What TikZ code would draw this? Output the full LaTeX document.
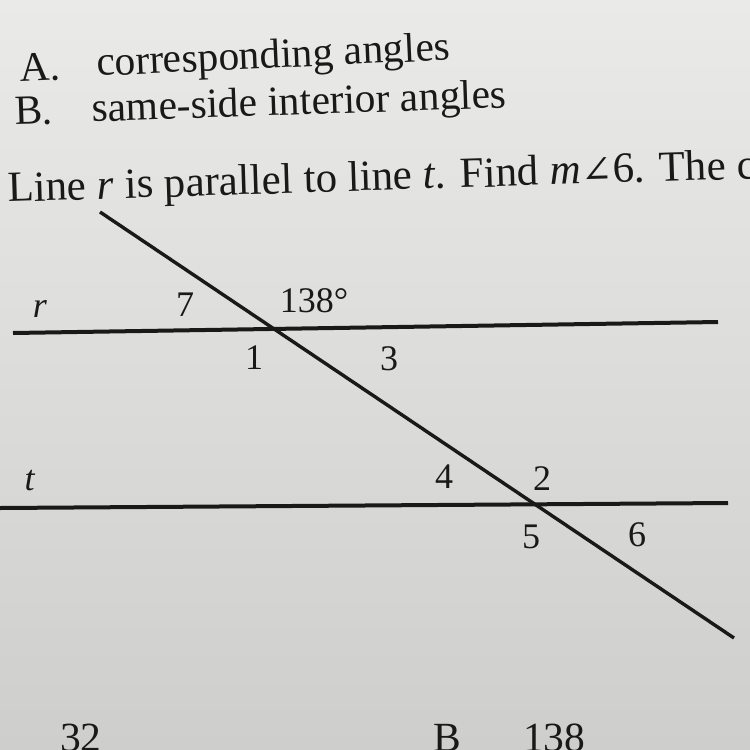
\documentclass[tikz,border=0pt]{standalone}
\usepackage{fontspec}
\setmainfont{Liberation Serif}
\newfontfamily\symfont{DejaVu Serif}
\definecolor{ink}{RGB}{25,25,25}
\definecolor{papertop}{RGB}{234,234,232}
\definecolor{paperbot}{RGB}{206,206,204}
\tikzset{
  txt/.style={anchor=base west, inner sep=0pt, text=ink, font=\fontsize{41.5}{50}\selectfont},
  lbl/.style={anchor=center, inner sep=0pt, text=ink, font=\fontsize{36}{42}\selectfont},
  ln/.style={draw=ink, line width=4pt},
  tr/.style={draw=ink, line width=3.4pt}
}
\begin{document}
\begin{tikzpicture}[x=1pt,y=-1pt]
\shade[top color=papertop, bottom color=paperbot] (0,0) rectangle (750,750);
\useasboundingbox (0,0) rectangle (750,750);
% text lines
\node[txt, rotate=2.6] (a) at (20,82) {A.};
\node[txt, rotate=2.6] (atext) at (97,76) {corresponding angles};
\node[txt, rotate=2.0] (b) at (15,125) {B.};
\node[txt, rotate=2.0] (btext) at (92,122) {same-side interior angles};
\node[txt, rotate=1.8, font=\fontsize{43}{50}\selectfont] (q) at (8,202)
  {Line \textit{r} is parallel to line \textit{t}. Find \textit{m}{\symfont\fontsize{38}{46}\selectfont ∠}6. The c};
% lines
\coordinate (r1) at (13,333);
\coordinate (r2) at (718,322);
\coordinate (t1) at (0,508);
\coordinate (t2) at (728,503);
\coordinate (x1) at (100,212);
\coordinate (x2) at (734,638);
\draw[ln] (r1) -- (r2);
\draw[ln] (t1) -- (t2);
\draw[tr] (x1) -- (x2);
% labels
\node[lbl] (lr) at (40,309) {\textit{r}};
\node[lbl] (l7) at (185,305) {7};
\node[lbl] (l138) at (314,301) {138°};
\node[lbl] (l1) at (254,358) {1};
\node[lbl] (l3) at (389,359) {3};
\node[lbl] (lt) at (30,481) {\textit{t}};
\node[lbl] (l4) at (444,477) {4};
\node[lbl] (l2) at (542,479) {2};
\node[lbl] (l5) at (531,537) {5};
\node[lbl] (l6) at (637,535) {6};
% bottom answers (cut off by the photo edge)
\node[txt] (c32) at (60,751) {32};
\node[txt] (cb) at (433,751) {B};
\node[txt] (c138) at (523,751) {138};
\end{tikzpicture}
\end{document}
